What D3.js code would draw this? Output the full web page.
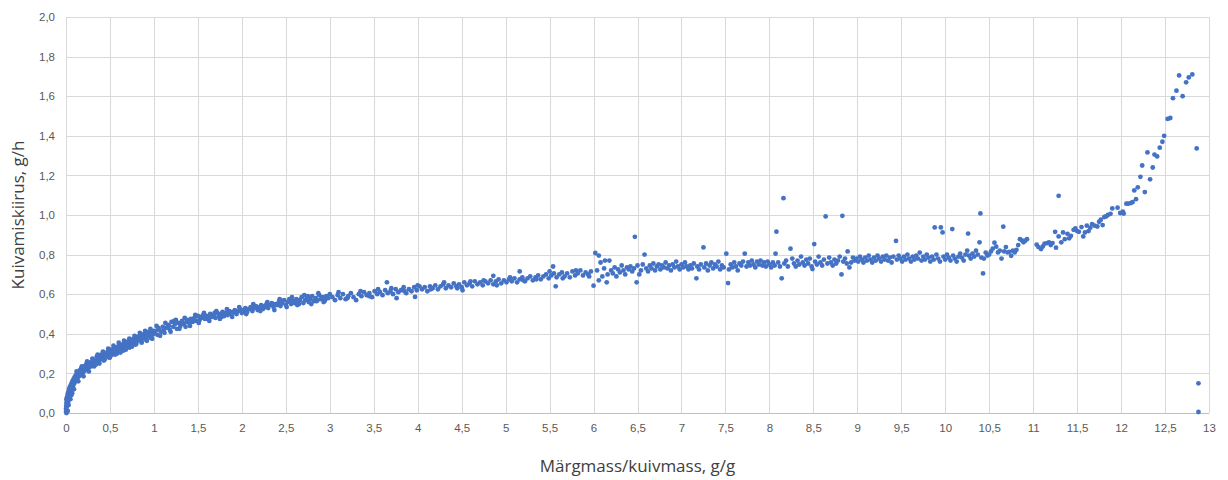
<!DOCTYPE html>
<html>
<head>
<meta charset="utf-8">
<script src="https://cdn.jsdelivr.net/npm/d3@7"></script>
<style>
  body { margin: 0; background: #fff; }
  svg { display: block; font-family: "Open Sans", "Liberation Sans", sans-serif; }
  .tick text { fill: #595959; font-size: 11.5px; }
  .grid line { stroke: #d9d9d9; stroke-width: 1; shape-rendering: crispEdges; }
  .title { fill: #404040; font-size: 17px; }
</style>
</head>
<body>
<div id="chart"></div>
<script>
// drying curve: [moisture g/g, rate g/h]
var rampPoints = [
  [0.000,0.005],[0.000,0.02],[0.002,0.035],[0.004,0.05],[0.005,0.07],[0.005,0.0],[0.008,0.03],[0.010,0.06],
  [0.012,0.08],[0.015,0.045],[0.018,0.09],[0.020,0.07],[0.022,0.10],[0.025,0.055],[0.028,0.085],[0.030,0.11],
  [0.030,0.04],[0.033,0.095],[0.036,0.12],[0.040,0.10],[0.043,0.13],[0.046,0.11],[0.050,0.125],[0.050,0.07],
  [0.053,0.14],[0.056,0.115],[0.060,0.135],[0.063,0.15],[0.066,0.125],[0.070,0.145],[0.070,0.10],[0.073,0.16],
  [0.076,0.135],[0.080,0.155],[0.084,0.17],[0.088,0.145],[0.090,0.12],[0.092,0.165],[0.096,0.18],[0.100,0.155],
  [0.105,0.175],[0.110,0.19],[0.115,0.165],[0.120,0.185],[0.125,0.20],[0.130,0.175],[0.135,0.195],[0.140,0.205],
  [0.145,0.185],[0.150,0.20],[0.155,0.215],[0.160,0.19],[0.166,0.21],[0.172,0.225],[0.178,0.20],[0.184,0.215],
  [0.190,0.23],[0.196,0.205],[0.202,0.225],[0.208,0.235],[0.214,0.215],[0.220,0.23],[0.228,0.245],[0.236,0.22],
  [0.244,0.24],[0.252,0.25],[0.260,0.23],[0.268,0.245],[0.276,0.255],[0.284,0.235],[0.292,0.25],[0.300,0.26],
  [0.120,0.21],[0.140,0.16],[0.180,0.235],[0.200,0.185],[0.240,0.26],[0.260,0.21],[0.020,0.01],[0.060,0.09]
];

var fallingPoints = [
  [0.31,0.27],[0.32,0.25],[0.33,0.265],[0.34,0.245],[0.35,0.285],[0.36,0.27],[0.37,0.26],[0.38,0.285],
  [0.39,0.27],[0.40,0.295],[0.41,0.275],[0.42,0.29],[0.43,0.265],[0.44,0.30],[0.45,0.285],[0.46,0.305],
  [0.47,0.29],[0.48,0.31],[0.49,0.28],[0.50,0.30],[0.51,0.32],[0.52,0.305],[0.53,0.295],[0.54,0.325],
  [0.55,0.31],[0.56,0.33],[0.57,0.315],[0.58,0.30],[0.59,0.335],[0.60,0.32],[0.61,0.34],[0.62,0.325],
  [0.63,0.345],[0.64,0.33],[0.65,0.315],[0.66,0.35],[0.67,0.335],[0.68,0.355],[0.69,0.34],[0.70,0.36],
  [0.71,0.345],[0.72,0.33],[0.73,0.365],[0.74,0.35],[0.75,0.37],[0.76,0.355],[0.77,0.375],[0.78,0.36],
  [0.79,0.345],[0.80,0.38],[0.81,0.365],[0.82,0.385],[0.83,0.37],[0.84,0.39],[0.85,0.375],[0.86,0.36],
  [0.87,0.395],[0.88,0.38],[0.89,0.40],[0.90,0.385],[0.91,0.37],[0.92,0.40],[0.93,0.39],[0.94,0.41],
  [0.95,0.395],[0.96,0.38],[0.97,0.405],[0.98,0.395],[0.99,0.415],[1.00,0.40],
  [0.30,0.275],[0.32,0.235],[0.36,0.295],[0.38,0.25],[0.42,0.31],[0.44,0.27],[0.48,0.325],[0.50,0.28],
  [0.54,0.34],[0.56,0.295],[0.60,0.355],[0.62,0.305],[0.66,0.365],[0.68,0.32],[0.72,0.375],[0.75,0.335],
  [0.78,0.39],[0.80,0.35],[0.84,0.405],[0.86,0.355],[0.90,0.415],[0.92,0.365],[0.96,0.425],[0.98,0.375],
  [1.02,0.415],[1.04,0.395],[1.05,0.43],[1.06,0.42],[1.08,0.41],[1.10,0.435],[1.11,0.415],[1.12,0.405],
  [1.14,0.43],[1.16,0.445],[1.17,0.44],[1.18,0.42],[1.20,0.46],[1.22,0.435],[1.23,0.465],[1.24,0.45],
  [1.26,0.425],[1.28,0.455],[1.30,0.44],[1.31,0.455],[1.32,0.465],[1.34,0.45],[1.36,0.435],[1.37,0.46],
  [1.38,0.47],[1.40,0.455],[1.42,0.475],[1.44,0.46],[1.45,0.47],[1.46,0.48],[1.48,0.465],[1.50,0.49],
  [1.52,0.47],[1.53,0.485],[1.54,0.48],[1.56,0.495],[1.58,0.475],[1.60,0.49],[1.61,0.475],[1.62,0.48],
  [1.64,0.50],[1.66,0.485],[1.68,0.495],[1.69,0.505],[1.70,0.48],[1.72,0.505],[1.74,0.49],[1.76,0.50],
  [1.77,0.485],[1.78,0.51],[1.80,0.49],[1.82,0.505],[1.84,0.495],[1.85,0.51],[1.86,0.515],[1.88,0.50],
  [1.90,0.51],[1.92,0.52],[1.93,0.505],[1.94,0.50],[1.96,0.515],[1.98,0.525],[2.00,0.505],[2.02,0.52],
  [2.03,0.51],[2.04,0.53],[2.06,0.51],[2.08,0.525],[2.10,0.535],[2.11,0.525],[2.12,0.515],[2.14,0.53],
  [2.16,0.54],[2.18,0.52],[2.19,0.53],[2.20,0.535],[2.22,0.545],[2.24,0.525],[2.26,0.54],[2.27,0.535],
  [2.28,0.55],[2.30,0.53],[2.32,0.545],[2.34,0.555],[2.35,0.545],[2.36,0.535],[2.38,0.55],[2.40,0.545],
  [2.42,0.56],[2.44,0.54],[2.45,0.565],[2.46,0.555],[2.48,0.57],[2.50,0.545],[2.52,0.56],[2.54,0.575],
  [2.55,0.565],[2.56,0.55],[2.58,0.565],[2.60,0.555],[2.62,0.575],[2.64,0.56],[2.65,0.55],[2.66,0.57],
  [2.68,0.585],[2.70,0.555],[2.72,0.57],[2.74,0.58],[2.75,0.59],[2.76,0.56],[2.78,0.575],[2.80,0.59],
  [2.82,0.565],[2.84,0.58],[2.85,0.565],[2.86,0.57],[2.88,0.595],[2.90,0.575],[2.92,0.585],[2.94,0.565],
  [2.95,0.575],[2.96,0.59],[2.98,0.58],[3.00,0.60],
  [1.03,0.44],[1.07,0.39],[1.13,0.455],[1.19,0.41],[1.25,0.47],[1.29,0.425],[1.35,0.48],[1.41,0.44],
  [1.47,0.495],[1.51,0.455],[1.57,0.505],[1.63,0.465],[1.71,0.515],[1.75,0.475],[1.83,0.525],[1.89,0.485],
  [1.97,0.535],[2.05,0.50],[2.13,0.55],[2.21,0.515],[2.29,0.56],[2.37,0.52],[2.43,0.575],[2.51,0.535],
  [2.57,0.585],[2.63,0.545],[2.71,0.595],[2.79,0.55],[2.87,0.605],[2.93,0.56]
];

var slowPoints = [
  [3.03,0.585],[3.06,0.57],[3.09,0.595],[3.10,0.61],[3.12,0.58],[3.15,0.60],[3.18,0.575],[3.20,0.58],
  [3.21,0.59],[3.24,0.605],[3.27,0.585],[3.30,0.57],[3.33,0.60],[3.35,0.615],[3.36,0.59],[3.39,0.61],
  [3.42,0.595],[3.45,0.605],[3.45,0.59],[3.48,0.585],[3.51,0.615],[3.54,0.60],[3.55,0.625],[3.57,0.61],
  [3.60,0.595],[3.63,0.62],[3.65,0.66],[3.66,0.605],[3.69,0.615],[3.70,0.63],[3.72,0.60],[3.75,0.625],
  [3.76,0.58],[3.78,0.61],[3.81,0.62],[3.84,0.635],[3.85,0.615],[3.87,0.605],[3.90,0.625],[3.93,0.615],
  [3.96,0.635],[3.97,0.586],[3.99,0.62],[4.00,0.645],[4.02,0.64],[4.05,0.625],[4.08,0.635],[4.11,0.615],
  [4.14,0.64],[4.15,0.625],[4.17,0.63],[4.20,0.645],[4.23,0.625],[4.26,0.64],[4.29,0.65],[4.30,0.66],
  [4.32,0.63],[4.35,0.645],[4.38,0.635],[4.41,0.655],[4.44,0.64],[4.45,0.63],[4.47,0.65],[4.50,0.635],
  [4.51,0.62],[4.53,0.66],[4.56,0.645],[4.59,0.655],[4.60,0.665],[4.62,0.64],[4.65,0.665],[4.68,0.65],
  [4.71,0.66],[4.74,0.645],[4.75,0.67],[4.77,0.665],[4.80,0.655],[4.83,0.67],[4.86,0.693],[4.86,0.65],
  [4.89,0.665],[4.90,0.645],[4.92,0.675],[4.95,0.655],[4.98,0.67],[5.01,0.66],[5.04,0.675],[5.05,0.685],
  [5.07,0.665],[5.10,0.68],[5.13,0.66],[5.16,0.715],[5.16,0.675],[5.19,0.685],[5.20,0.67],[5.22,0.665],
  [5.25,0.68],[5.28,0.69],[5.31,0.67],[5.34,0.685],[5.35,0.675],[5.37,0.695],[5.40,0.675],[5.43,0.69],
  [5.46,0.70],[5.49,0.68],[5.50,0.715],[5.52,0.695],[5.54,0.74],[5.55,0.705],[5.57,0.64],[5.58,0.685],
  [5.61,0.70],[5.64,0.71],[5.65,0.68],[5.67,0.69],[5.70,0.705],[5.73,0.685],[5.76,0.715],[5.79,0.695],
  [5.80,0.72],[5.82,0.705],[5.85,0.72],[5.88,0.695],[5.91,0.71],[5.94,0.70],[5.95,0.69],[5.97,0.715]
];

var plateauPoints = [
  [6.00,0.643],[6.02,0.808],[6.04,0.72],[6.06,0.795],[6.06,0.67],[6.08,0.76],[6.10,0.69],[6.12,0.73],
  [6.13,0.77],[6.15,0.66],[6.16,0.70],[6.18,0.77],[6.20,0.72],[6.22,0.705],[6.24,0.735],[6.26,0.69],
  [6.28,0.725],[6.30,0.71],[6.32,0.745],[6.34,0.72],[6.36,0.70],[6.38,0.735],[6.40,0.725],[6.42,0.74],
  [6.44,0.715],[6.46,0.73],[6.47,0.89],[6.49,0.66],[6.50,0.745],[6.52,0.70],[6.54,0.72],[6.56,0.75],
  [6.58,0.80],[6.60,0.73],[6.62,0.715],[6.64,0.745],[6.66,0.73],[6.68,0.755],[6.70,0.72],[6.72,0.74],
  [6.74,0.75],[6.76,0.725],[6.78,0.745],[6.80,0.735],[6.82,0.76],[6.84,0.73],[6.86,0.745],[6.88,0.72],
  [6.90,0.75],[6.92,0.735],[6.94,0.765],[6.96,0.74],[6.98,0.725],[7.00,0.75],[7.02,0.735],[7.04,0.76],
  [7.06,0.74],[7.08,0.725],[7.10,0.745],[7.12,0.73],[7.14,0.755],[7.17,0.68],[7.18,0.74],[7.20,0.725],
  [7.22,0.75],[7.25,0.836],[7.26,0.735],[7.28,0.755],[7.30,0.72],[7.32,0.745],[7.34,0.76],[7.36,0.73],
  [7.38,0.75],[7.40,0.74],[7.42,0.765],[7.44,0.725],[7.46,0.745],[7.48,0.735],[7.51,0.805],[7.53,0.656],
  [7.54,0.725],[7.56,0.75],[7.58,0.735],[7.60,0.76],[7.62,0.74],[7.64,0.72],[7.66,0.755],[7.68,0.745],
  [7.70,0.765],[7.72,0.805],[7.74,0.74],[7.76,0.76],[7.78,0.745],[7.80,0.77],[7.82,0.75],[7.84,0.735],
  [7.86,0.765],[7.88,0.75],[7.90,0.77],[7.92,0.745],[7.94,0.76],[7.96,0.74],[7.98,0.765],[8.00,0.75],
  [8.02,0.735],[8.04,0.76],[8.06,0.745],[8.07,0.805],[8.08,0.916],[8.10,0.76],[8.12,0.74],[8.14,0.68],
  [8.16,1.085],[8.17,0.755],[8.19,0.77],[8.21,0.74],[8.24,0.83],[8.26,0.78],[8.28,0.755],[8.30,0.74],
  [8.32,0.77],[8.34,0.75],[8.36,0.79],[8.38,0.76],[8.40,0.745],[8.42,0.775],[8.44,0.755],[8.46,0.78],
  [8.48,0.74],[8.49,0.727],[8.51,0.853],[8.52,0.765],[8.54,0.75],[8.56,0.79],[8.58,0.76],[8.60,0.745],
  [8.62,0.775],[8.64,0.993],[8.66,0.755],[8.68,0.785],[8.70,0.76],[8.72,0.745],[8.74,0.775],[8.76,0.755],
  [8.78,0.77],[8.80,0.79],[8.82,0.70],[8.83,0.996],[8.84,0.765],[8.86,0.78],[8.88,0.755],[8.89,0.816],
  [8.91,0.735],[8.93,0.76],[8.95,0.785],[8.97,0.77],[8.99,0.78],
  [9.01,0.765],[9.03,0.79],[9.05,0.775],[9.07,0.76],[9.09,0.785],[9.11,0.77],[9.13,0.795],[9.15,0.775],
  [9.17,0.76],[9.19,0.785],[9.21,0.77],[9.23,0.795],[9.25,0.78],[9.27,0.765],[9.29,0.79],[9.31,0.775],
  [9.33,0.795],[9.35,0.77],[9.37,0.785],[9.39,0.76],[9.41,0.79],[9.44,0.869],[9.45,0.775],[9.47,0.795],
  [9.49,0.78],[9.51,0.765],[9.53,0.79],[9.55,0.775],[9.57,0.80],[9.59,0.78],[9.61,0.765],[9.63,0.79],
  [9.65,0.775],[9.67,0.795],[9.69,0.78],[9.71,0.81],[9.73,0.77],[9.75,0.79],[9.77,0.775],[9.79,0.80],
  [9.81,0.785],[9.83,0.765],[9.85,0.79],[9.87,0.775],[9.88,0.937],[9.90,0.80],[9.92,0.78],[9.94,0.765],
  [9.95,0.937],[9.97,0.912],[9.98,0.79],[10.00,0.775],[10.02,0.80],[10.04,0.785],[10.06,0.77],[10.08,0.929],
  [10.09,0.795],[10.11,0.78],[10.13,0.765],[10.15,0.79],[10.17,0.805],[10.19,0.785],[10.21,0.77],[10.23,0.80],
  [10.25,0.82],[10.26,0.906],[10.27,0.795],[10.29,0.78],[10.31,0.805],[10.33,0.79],[10.35,0.82],[10.37,0.80],
  [10.39,0.862],[10.40,1.008],[10.41,0.785],[10.43,0.705],[10.44,0.78],[10.46,0.81],[10.48,0.795],[10.50,0.80],
  [10.52,0.816],[10.54,0.83],[10.56,0.86],[10.58,0.84],[10.60,0.811],[10.62,0.82],[10.64,0.78],[10.66,0.941],
  [10.67,0.816],[10.69,0.838],[10.71,0.811],[10.73,0.814],[10.75,0.794],[10.77,0.82],[10.79,0.811],[10.81,0.824],
  [10.83,0.848],[10.85,0.878],[10.87,0.872],[10.89,0.862],[10.91,0.87],[10.93,0.878],
  [11.04,0.85],[11.06,0.838],[11.09,0.828],[11.11,0.841],[11.13,0.855],[11.16,0.858],[11.18,0.862],[11.20,0.848],
  [11.22,0.858],[11.25,0.915],[11.26,0.835],[11.29,1.097],[11.29,0.892],[11.32,0.862],[11.34,0.912],[11.36,0.878],
  [11.39,0.905],[11.41,0.882],[11.43,0.895],[11.46,0.925],[11.48,0.932],[11.50,0.919],[11.52,0.915],[11.55,0.939],
  [11.57,0.892],[11.59,0.912],[11.61,0.946],[11.63,0.919],[11.65,0.936],[11.67,0.954],[11.70,0.946],[11.73,0.942],
  [11.75,0.966],[11.77,0.976],[11.79,0.949],[11.81,0.99],[11.83,0.993],[11.85,1.00],[11.88,1.006],[11.90,1.033]
];

var finalPoints = [
  [11.96,1.037],[11.99,1.01],[12.02,1.017],[12.03,1.007],[12.06,1.057],[12.08,1.057],[12.11,1.06],[12.13,1.065],
  [12.15,1.124],[12.17,1.08],[12.19,1.14],[12.22,1.193],[12.24,1.25],[12.27,1.116],[12.30,1.316],[12.33,1.18],
  [12.36,1.24],[12.38,1.305],[12.41,1.296],[12.44,1.34],[12.47,1.37],[12.49,1.40],[12.53,1.485],[12.56,1.49],
  [12.59,1.59],[12.63,1.628],[12.66,1.705],[12.70,1.60],[12.74,1.67],[12.77,1.695],[12.81,1.71],[12.86,1.336],
  [12.88,0.15],[12.88,0.005]
];

var xTicks = [0, 0.5, 1, 1.5, 2, 2.5, 3, 3.5, 4, 4.5, 5, 5.5, 6, 6.5, 7, 7.5, 8, 8.5, 9, 9.5, 10, 10.5, 11, 11.5, 12, 12.5, 13];
var yTicks = [0, 0.2, 0.4, 0.6, 0.8, 1.0, 1.2, 1.4, 1.6, 1.8, 2.0];
var xTitle = "Märgmass/kuivmass, g/g";
var yTitle = "Kuivamiskiirus, g/h";

var width = 1228, height = 480;
var plot = {left: 66, right: 1209, top: 17, bottom: 413};

var allPoints = rampPoints.concat(fallingPoints, slowPoints, plateauPoints, finalPoints);

var x = d3.scaleLinear().domain([0, 13]).range([plot.left, plot.right]);
var y = d3.scaleLinear().domain([0, 2]).range([plot.bottom, plot.top]);

var svg = d3.select("#chart").append("svg")
    .attr("width", width)
    .attr("height", height);

// gridlines
svg.append("g").attr("class", "grid")
  .selectAll("line").data(xTicks).enter().append("line")
    .attr("x1", function(d) { return Math.round(x(d)) + 0.5; })
    .attr("x2", function(d) { return Math.round(x(d)) + 0.5; })
    .attr("y1", plot.top)
    .attr("y2", plot.bottom);

svg.append("g").attr("class", "grid")
  .selectAll("line").data(yTicks.slice(1)).enter().append("line")
    .attr("x1", plot.left)
    .attr("x2", plot.right)
    .attr("y1", function(d) { return Math.round(y(d)) + 0.5; })
    .attr("y2", function(d) { return Math.round(y(d)) + 0.5; });

// bottom axis line
svg.append("line")
    .attr("x1", plot.left).attr("x2", plot.right)
    .attr("y1", Math.round(y(0)) + 0.5).attr("y2", Math.round(y(0)) + 0.5)
    .attr("stroke", "#bfbfbf")
    .attr("shape-rendering", "crispEdges");

function comma(fmt) {
  return function(d) { return fmt(d).replace(".", ","); };
}

var xAxis = d3.axisBottom(x)
    .tickValues(xTicks)
    .tickSize(0)
    .tickPadding(11)
    .tickFormat(comma(d3.format("")));

var yAxis = d3.axisLeft(y)
    .tickValues(yTicks)
    .tickSize(0)
    .tickPadding(11)
    .tickFormat(comma(d3.format(".1f")));

svg.append("g")
    .attr("transform", "translate(0," + plot.bottom + ")")
    .call(xAxis)
    .call(function(g) { g.select(".domain").remove(); })
    .selectAll("text").attr("font-family", null);

svg.append("g")
    .attr("transform", "translate(" + plot.left + ",0)")
    .call(yAxis)
    .call(function(g) { g.select(".domain").remove(); })
    .selectAll("text").attr("font-family", null);

// points
svg.append("g")
  .selectAll("circle").data(allPoints).enter().append("circle")
    .attr("cx", function(d) { return x(d[0]); })
    .attr("cy", function(d) { return y(d[1]); })
    .attr("r", 2.4)
    .attr("fill", "#4472c4");

// axis titles
svg.append("text")
    .attr("class", "title")
    .attr("x", (plot.left + plot.right) / 2)
    .attr("y", 472)
    .attr("text-anchor", "middle")
    .text(xTitle);

svg.append("text")
    .attr("class", "title")
    .attr("transform", "translate(24," + ((plot.top + plot.bottom) / 2) + ") rotate(-90)")
    .attr("text-anchor", "middle")
    .text(yTitle);
</script>
</body>
</html>
